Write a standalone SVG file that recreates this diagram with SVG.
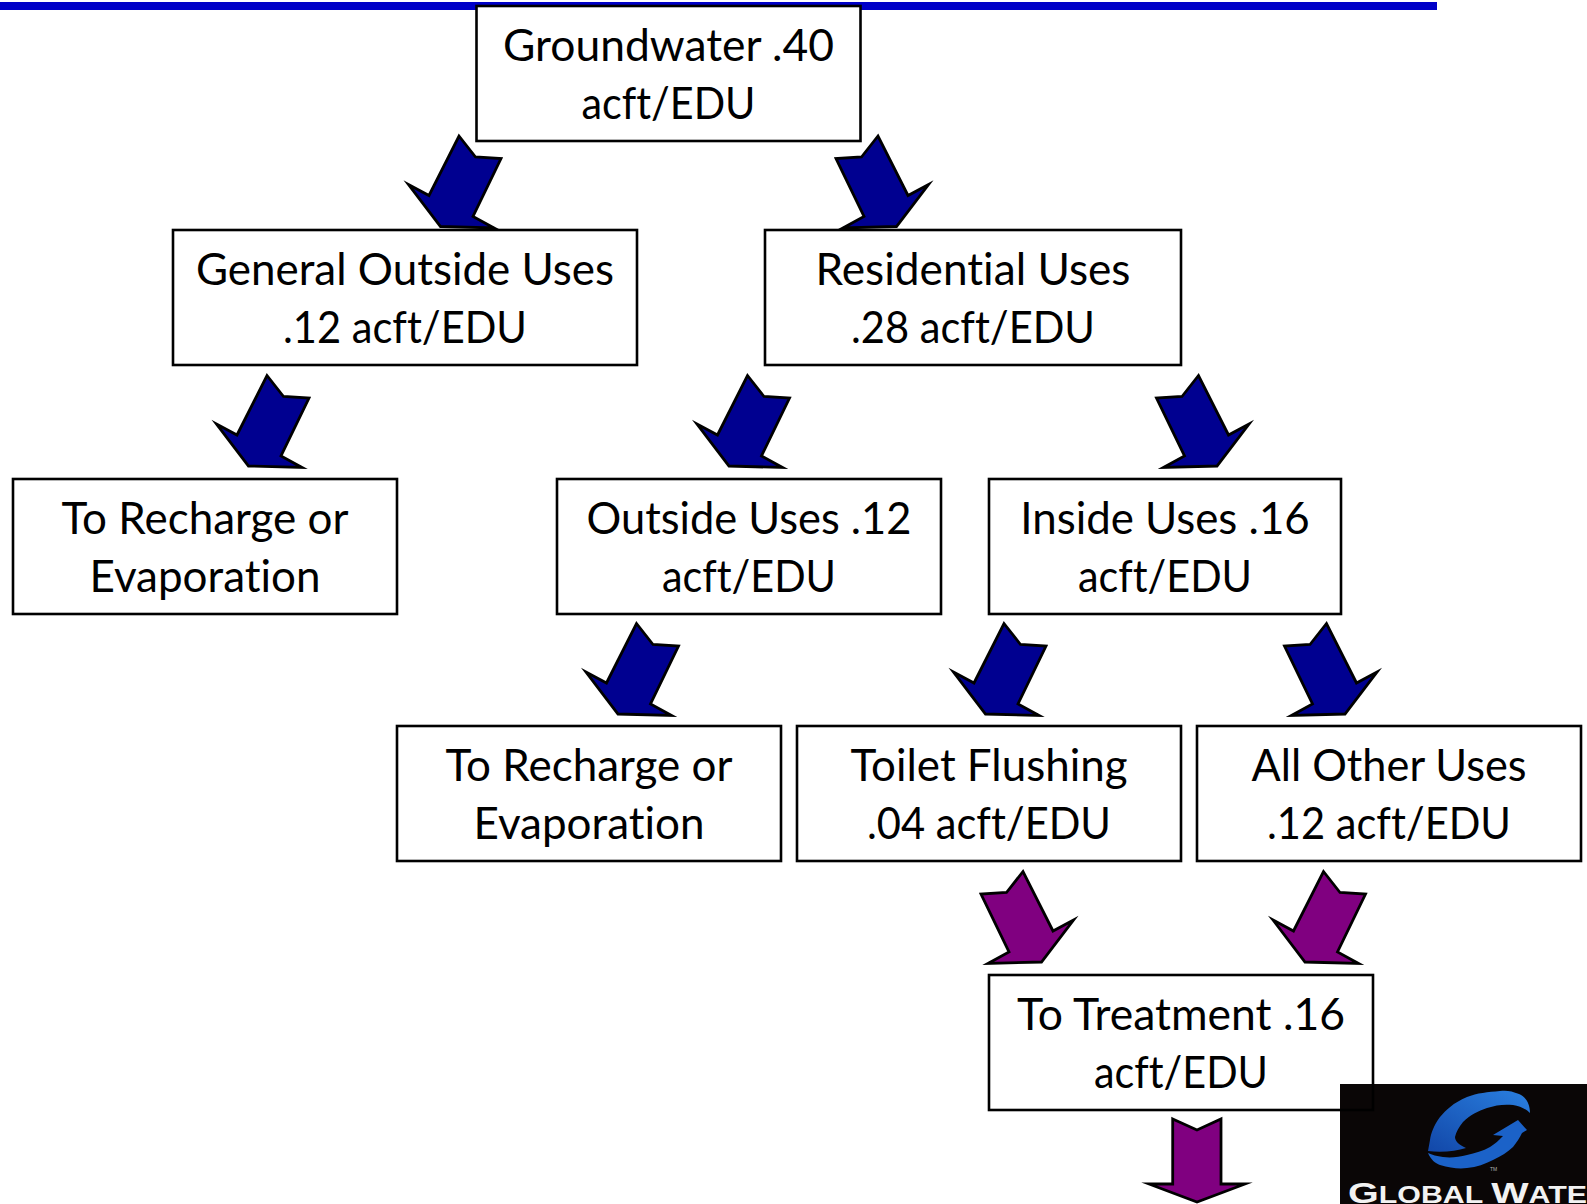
<svg xmlns="http://www.w3.org/2000/svg" width="1587" height="1204" viewBox="0 0 1587 1204">
<style>
.box{fill:#fff;stroke:#000;stroke-width:2.6}
.open{fill:none}
text.t{font-family:"Lato","Open Sans",sans-serif;font-size:43.5px;fill:#000;text-anchor:middle;font-variant-ligatures:none}
.blue{fill:#000090;stroke:#000;stroke-width:2.8;stroke-linejoin:miter;stroke-miterlimit:10}
.purple{fill:#800080;stroke:#000;stroke-width:2.8;stroke-linejoin:miter;stroke-miterlimit:10}
</style>
<defs>
<path id="arrow" d="M0 0L16.500 21L42 22.500L14 80.500L35 92L-18.500 90.500L-50.500 48.500L-30 59.500Z"/>
<linearGradient id="swoosh" x1="0" y1="1" x2="1" y2="0"><stop offset="0" stop-color="#1247a8"/><stop offset="1" stop-color="#2a80e0"/></linearGradient>
</defs>
<rect id="band" x="0" y="2" width="1437" height="8" fill="#0000c8"/>
<g id="logo">
<rect x="1340" y="1084" width="247" height="120" fill="#0a0606"/>
<path d="M1530 1113C1530 1104 1526 1097 1519 1094C1512 1091 1506 1090 1500 1091C1488 1092 1477 1093 1467 1097C1453 1103 1446 1110 1440 1117C1434 1125 1431 1133 1430 1140L1428 1151C1442 1153 1456 1151 1466 1148C1459 1145 1455 1141 1455 1137C1456 1132 1459 1127 1463 1122C1470 1115 1478 1111 1487 1108C1496 1105 1504 1104 1513 1105C1520 1106 1526 1109 1530 1113Z" fill="url(#swoosh)"/>
<path d="M1428 1153C1431 1160 1435 1163 1440 1165C1450 1168 1459 1169 1467 1168C1477 1167 1485 1164 1493 1160C1501 1156 1508 1152 1513 1147C1517 1142 1520 1137 1522 1133L1527 1130L1518 1120L1493 1135L1503 1136C1499 1140 1495 1144 1490 1147C1483 1151 1475 1153 1467 1155C1459 1157 1451 1158 1443 1157C1437 1156 1432 1155 1428 1153Z" fill="#1b62c8"/>
<text x="1490" y="1171" style="font-family:'Liberation Sans',sans-serif;font-size:5px;fill:#b0b0b0">TM</text>
<text x="1348" y="1203" textLength="239" lengthAdjust="spacingAndGlyphs" style="font-family:'Liberation Sans',sans-serif;font-weight:700;font-size:23px;fill:#f2f2f2"><tspan font-size="30">G</tspan>LOBAL <tspan font-size="30">W</tspan>ATE</text>
</g>
<g id="connectors">
<use href="#arrow" class="blue" transform="translate(459,136)"/>
<use href="#arrow" class="blue" transform="translate(878,136) scale(-1,1)"/>
<use href="#arrow" class="blue" transform="translate(267,375.500)"/>
<use href="#arrow" class="blue" transform="translate(747.500,375.500)"/>
<use href="#arrow" class="blue" transform="translate(1198.500,375.500) scale(-1,1)"/>
<use href="#arrow" class="blue" transform="translate(636.500,623.500)"/>
<use href="#arrow" class="blue" transform="translate(1004,623.500)"/>
<use href="#arrow" class="blue" transform="translate(1326.500,623.500) scale(-1,1)"/>
<use href="#arrow" class="purple" transform="translate(1023,871.500) scale(-1,1)"/>
<use href="#arrow" class="purple" transform="translate(1323.500,871.500)"/>
<path class="purple" d="M1172.700 1119L1197 1130L1221 1119V1184H1245L1197 1202L1149 1184H1172.700Z"/>
</g>
<g id="groundwater"><rect class="box" x="476.500" y="6" width="384" height="135"/><text class="t" x="668.500" y="61" textLength="331" lengthAdjust="spacingAndGlyphs">Groundwater .40</text><text class="t" x="668.500" y="118.500" textLength="174" lengthAdjust="spacingAndGlyphs">acft/EDU</text></g>
<g id="general-outside"><rect class="box" x="173" y="230" width="464" height="135"/><text class="t" x="405" y="285" textLength="418" lengthAdjust="spacingAndGlyphs">General Outside Uses</text><text class="t" x="405" y="342.500" textLength="244" lengthAdjust="spacingAndGlyphs">.12 acft/EDU</text></g>
<g id="residential"><rect class="box" x="765" y="230" width="416" height="135"/><text class="t" x="973" y="285" textLength="315" lengthAdjust="spacingAndGlyphs">Residential Uses</text><text class="t" x="973" y="342.500" textLength="244" lengthAdjust="spacingAndGlyphs">.28 acft/EDU</text></g>
<g id="recharge-1"><rect class="box" x="13" y="479" width="384" height="135"/><text class="t" x="205" y="534" textLength="287" lengthAdjust="spacingAndGlyphs">To Recharge or</text><text class="t" x="205" y="591.500" textLength="231" lengthAdjust="spacingAndGlyphs">Evaporation</text></g>
<g id="outside"><rect class="box" x="557" y="479" width="384" height="135"/><text class="t" x="749" y="534" textLength="325" lengthAdjust="spacingAndGlyphs">Outside Uses .12</text><text class="t" x="749" y="591.500" textLength="174" lengthAdjust="spacingAndGlyphs">acft/EDU</text></g>
<g id="inside"><rect class="box" x="989" y="479" width="352" height="135"/><text class="t" x="1165" y="534" textLength="289.500" lengthAdjust="spacingAndGlyphs">Inside Uses .16</text><text class="t" x="1165" y="591.500" textLength="174" lengthAdjust="spacingAndGlyphs">acft/EDU</text></g>
<g id="recharge-2"><rect class="box" x="397" y="726" width="384" height="135"/><text class="t" x="589" y="781" textLength="287" lengthAdjust="spacingAndGlyphs">To Recharge or</text><text class="t" x="589" y="838.500" textLength="231" lengthAdjust="spacingAndGlyphs">Evaporation</text></g>
<g id="toilet"><rect class="box" x="797" y="726" width="384" height="135"/><text class="t" x="989" y="781" textLength="277" lengthAdjust="spacingAndGlyphs">Toilet Flushing</text><text class="t" x="989" y="838.500" textLength="244" lengthAdjust="spacingAndGlyphs">.04 acft/EDU</text></g>
<g id="all-other"><rect class="box" x="1197" y="726" width="384" height="135"/><text class="t" x="1389" y="781" textLength="275" lengthAdjust="spacingAndGlyphs">All Other Uses</text><text class="t" x="1389" y="838.500" textLength="244" lengthAdjust="spacingAndGlyphs">.12 acft/EDU</text></g>
<g id="treatment"><rect class="box open" x="989" y="975" width="384" height="135"/><text class="t" x="1181" y="1030" textLength="328" lengthAdjust="spacingAndGlyphs">To Treatment .16</text><text class="t" x="1181" y="1087.500" textLength="174" lengthAdjust="spacingAndGlyphs">acft/EDU</text></g>
</svg>
